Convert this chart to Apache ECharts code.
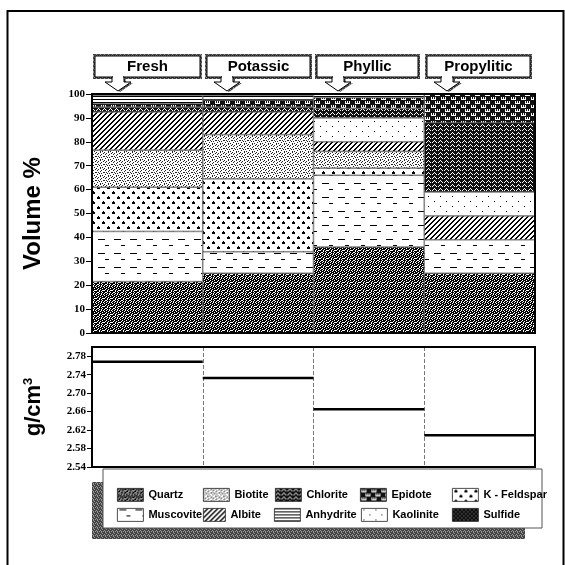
<!DOCTYPE html>
<html>
<head>
<meta charset="utf-8">
<script src="https://cdn.jsdelivr.net/npm/echarts@6/dist/echarts.min.js"></script>
<style>html,body{margin:0;background:#fff}#main{width:565px;height:565px}</style>
</head>
<body>
<div id="main"></div>
<script>
// alteration zones (columns)
var zones = ['Fresh', 'Potassic', 'Phyllic', 'Propylitic'];

// volume % of each mineral per zone, stacked bottom -> top
var quartz     = [21.5, 25, 36, 25];
var muscovite  = [21, 9, 30, 14];
var kfeldspar  = [18.5, 30.5, 3, 0];
var biotite    = [15.5, 18.5, 7, 0];
var albite     = [16, 9.5, 4, 10];
var kaolinite  = [0, 0, 10, 10];
var chlorite   = [2, 2, 4, 29];
var epidote    = [1.5, 3, 4.5, 12];
var anhydrite  = [3.5, 2, 1.5, 0];
var sulfide    = [0.5, 0.5, 0, 0];

// rock density, g/cm3
var density = [2.768, 2.733, 2.665, 2.609];
var densityBase = 2.54;   // bottom of the density axis

// little bitmap tiles for the hatch fills
function tile(rows, fg, bg) {
    var h = rows.length, w = rows[0].length;
    var c = document.createElement('canvas');
    c.width = w; c.height = h;
    var ctx = c.getContext('2d');
    ctx.fillStyle = bg; ctx.fillRect(0, 0, w, h);
    ctx.fillStyle = fg;
    rows.forEach(function (r, y) {
        for (var x = 0; x < r.length; x++) if (r[x] === '#') ctx.fillRect(x, y, 1, 1);
    });
    return { image: c, repeat: 'repeat' };
}

var pat = {
    quartz: tile([
        '##.###.#',
        '#.##.###',
        '.##.##..',
        '###.#.##',
        '#..###.#',
        '.##.#.##',
        '##.##.#.',
        '.###.###'
    ], '#000', '#fff'),
    muscovite: tile([
        '................',
        '..#######.......',
        '................',
        '................',
        '................',
        '................',
        '................',
        '.........####...',
        '................',
        '................',
        '................',
        '................',
        '................',
        '................'
    ], '#000', '#fff'),
    kfeldspar: tile([
        '..........',
        '...#......',
        '..###.....',
        '..###.....',
        '..........',
        '..........',
        '........#.',
        '.......###',
        '.......###',
        '..........'
    ], '#000', '#fff'),
    biotite: tile([
        '#...#...',
        '..#....#',
        '.#...#..',
        '....#...',
        '#.#....#',
        '...#.#..',
        '.#......',
        '....#.#.'
    ], '#222', '#fff'),
    albite: tile([
        '...##',
        '..##.',
        '.##..',
        '##...',
        '#...#'
    ], '#000', '#fff'),
    kaolinite: tile([
        '............',
        '..#.........',
        '............',
        '............',
        '............',
        '............',
        '........#...',
        '............',
        '............',
        '............'
    ], '#000', '#fff'),
    chlorite: tile([
        '##.###',
        '#.#.##',
        '.###.#',
        '######'
    ], '#111', '#fff'),
    epidote: tile([
        '##########',
        '#.#.#.####',
        '#.#.#.####',
        '#.....####',
        '##########',
        '#####.#.#.',
        '#####.#.#.',
        '#####.....'
    ], '#111', '#fff'),
    anhydrite: tile(['#', '.', '.'], '#000', '#fff'),
    sulfide: tile([
        '####',
        '#.##',
        '####',
        '###.'
    ], '#111', '#888'),
    shade: tile([
        '#.##',
        '##.#',
        '.###',
        '#.#.'
    ], '#444', '#999')
};

var minerals = [
    ['Quartz', quartz, pat.quartz],
    ['Muscovite', muscovite, pat.muscovite],
    ['K - Feldspar', kfeldspar, pat.kfeldspar],
    ['Biotite', biotite, pat.biotite],
    ['Albite', albite, pat.albite],
    ['Kaolinite', kaolinite, pat.kaolinite],
    ['Chlorite', chlorite, pat.chlorite],
    ['Epidote', epidote, pat.epidote],
    ['Anhydrite', anhydrite, pat.anhydrite],
    ['Sulfide', sulfide, pat.sulfide]
];

var series = minerals.map(function (m) {
    return {
        name: m[0],
        type: 'bar',
        stack: 'vol',
        xAxisIndex: 0,
        yAxisIndex: 0,
        barWidth: '100%',
        barCategoryGap: 0,
        data: m[1].map(function (v) { return v ? v : '-'; }),
        itemStyle: { color: m[2], borderColor: '#444', borderWidth: 0.6 },
        emphasis: { disabled: true }
    };
});

series.push({
    type: 'custom',
    xAxisIndex: 1,
    yAxisIndex: 1,
    data: density.map(function (v, i) { return [i, v - densityBase]; }),
    renderItem: function (params, api) {
        var i = api.value(0), v = api.value(1);
        var a = api.coord([i, v]), b = api.coord([i + 1, v]);
        return {
            type: 'line',
            shape: { x1: a[0], y1: a[1], x2: b[0], y2: b[1] },
            style: { stroke: '#000', lineWidth: 2.5 }
        };
    }
});

// legend laid out as the 2 x 5 grid in the box
var legendPos = [
    ['Quartz', 112, 483, 26], ['Biotite', 198, 483, 26], ['Chlorite', 270, 483, 26], ['Epidote', 355, 483, 26], ['K - Feldspar', 447, 483, 26],
    ['Muscovite', 112, 503, 26], ['Albite', 198, 503, 22], ['Anhydrite', 269, 503, 26], ['Kaolinite', 356, 503, 26], ['Sulfide', 447, 503, 26]
];
var legends = legendPos.map(function (l) {
    return {
        data: [l[0]],
        left: l[1], top: l[2],
        itemWidth: l[3], itemHeight: 13, itemGap: 4,
        icon: 'rect',
        z: 20,
        selectedMode: false,
        itemStyle: { borderColor: '#222', borderWidth: 0.8 },
        textStyle: { fontFamily: '"Liberation Sans", Arial', fontWeight: 'bold', fontSize: 11, color: '#000' }
    };
});

// header boxes with arrows
var headers = [
    ['Fresh', 95, 200, 118],
    ['Potassic', 207, 310, 227],
    ['Phyllic', 317, 418, 338],
    ['Propylitic', 427, 530, 447]
];
var graphics = [
    { type: 'rect', shape: { x: 7.5, y: 11, width: 556, height: 600 }, style: { fill: 'none', stroke: '#000', lineWidth: 2 }, z: 1 },
    { type: 'rect', shape: { x: 92, y: 482, width: 433, height: 57 }, style: { fill: pat.shade }, z: 1 },
    { type: 'rect', shape: { x: 103, y: 469, width: 439, height: 59 }, style: { fill: '#fff', stroke: '#555', lineWidth: 1 }, z: 2 },
    { type: 'rect', shape: { x: 92, y: 94, width: 443, height: 239 }, style: { fill: 'none', stroke: '#000', lineWidth: 2 }, z: 50 },
    { type: 'rect', shape: { x: 92, y: 347, width: 443, height: 120 }, style: { fill: 'none', stroke: '#000', lineWidth: 2 }, z: 50 }
];
headers.forEach(function (h) {
    var x0 = h[1], x1 = h[2], cx = h[3];
    var arrow = [[cx - 6, 77], [cx + 6, 77], [cx + 6, 82], [cx + 13, 82], [cx, 91], [cx - 13, 82], [cx - 6, 82]];
    var shadowArrow = arrow.map(function (p) { return [p[0] + 2, p[1] + 1]; });
    graphics.push(
        { type: 'rect', shape: { x: x0 - 2, y: 54, width: x1 - x0 + 4, height: 25 }, style: { fill: pat.shade }, z: 5 },
        { type: 'polygon', shape: { points: shadowArrow }, style: { fill: pat.shade }, z: 5 },
        { type: 'rect', shape: { x: x0, y: 56, width: x1 - x0, height: 21 }, style: { fill: '#fff', stroke: '#000', lineWidth: 1 }, z: 6 },
        { type: 'polygon', shape: { points: arrow }, style: { fill: '#fff', stroke: '#000', lineWidth: 1 }, z: 6 },
        { type: 'rect', shape: { x: cx - 5, y: 76, width: 10, height: 3 }, style: { fill: '#fff' }, z: 7 },
        { type: 'text', x: (x0 + x1) / 2, y: 67, style: { text: h[0], align: 'center', verticalAlign: 'middle', font: 'bold 15px "Liberation Sans", Arial', fill: '#000' }, z: 8 }
    );
});

var tickFont = { fontFamily: '"Liberation Serif", "Times New Roman", serif', fontWeight: 'bold', fontSize: 11, color: '#000' };

var myChart = echarts.init(document.getElementById('main'));
var option = {
    animation: false,
    backgroundColor: '#fff',
    grid: [
        { left: 92, top: 94, width: 443, height: 239 },
        { left: 92, top: 347, width: 443, height: 120 }
    ],
    xAxis: [
        { type: 'category', gridIndex: 0, data: zones, axisLabel: { show: false }, axisTick: { show: false }, axisLine: { show: false } },
        {
            type: 'value', gridIndex: 1, min: 0, max: 4, interval: 1,
            axisLabel: { show: false }, axisTick: { show: false }, axisLine: { show: false },
            splitLine: { show: true, lineStyle: { type: 'dashed', color: '#777', width: 1 } }
        }
    ],
    yAxis: [
        {
            type: 'value', gridIndex: 0, min: 0, max: 100, interval: 10,
            axisLine: { show: true, lineStyle: { color: '#000', width: 1.5 } },
            axisTick: { show: true, length: 6, lineStyle: { color: '#000' } },
            axisLabel: Object.assign({ margin: 7 }, tickFont),
            splitLine: { show: false },
            name: 'Volume %', nameLocation: 'middle', nameGap: 47,
            nameTextStyle: { fontFamily: '"Liberation Sans", Arial', fontWeight: 'bold', fontSize: 24, color: '#000' }
        },
        {
            type: 'value', gridIndex: 1, min: 0, max: 0.26, interval: 0.04,
            axisLine: { show: true, lineStyle: { color: '#000', width: 1.5 } },
            axisTick: { show: true, length: 5, lineStyle: { color: '#000' } },
            axisLabel: Object.assign({
                margin: 6, showMaxLabel: false,
                formatter: function (v) { return (v + densityBase).toFixed(2); }
            }, tickFont),
            splitLine: { show: false },
            name: 'g/cm{sup|3}', nameLocation: 'middle', nameGap: 47,
            nameTextStyle: {
                fontFamily: '"Liberation Sans", Arial', fontWeight: 'bold', fontSize: 22, color: '#000',
                rich: { sup: { fontFamily: '"Liberation Sans", Arial', fontWeight: 'bold', fontSize: 13, verticalAlign: 'top', padding: [0, 0, 10, 0] } }
            }
        }
    ],
    legend: legends,
    graphic: graphics,
    series: series
};
myChart.setOption(option);
</script>
</body>
</html>
